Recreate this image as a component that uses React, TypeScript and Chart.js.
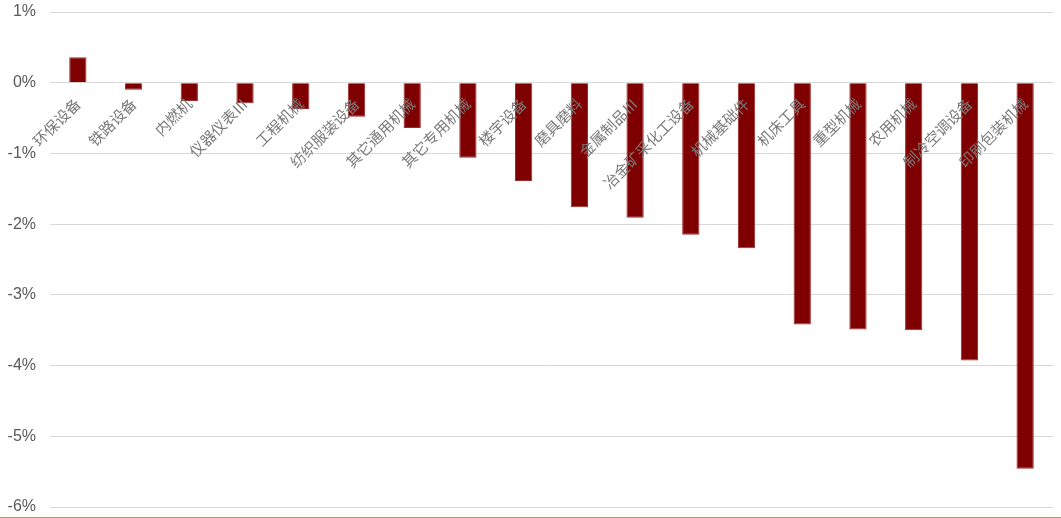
import React, { useEffect, useRef } from "react";
import { Chart, registerables } from "chart.js";

Chart.register(...registerables);

const categories = [
  "环保设备",
  "铁路设备",
  "内燃机",
  "仪器仪表Ⅲ",
  "工程机械",
  "纺织服装设备",
  "其它通用机械",
  "其它专用机械",
  "楼宇设备",
  "磨具磨料",
  "金属制品Ⅲ",
  "冶金矿采化工设备",
  "机械基础件",
  "机床工具",
  "重型机械",
  "农用机械",
  "制冷空调设备",
  "印刷包装机械",
];

// weekly change, %
const changes = [
  0.36, -0.1, -0.26, -0.29, -0.37, -0.48, -0.64, -1.06, -1.39, -1.76, -1.91,
  -2.15, -2.34, -3.42, -3.49, -3.5, -3.93, -5.46,
];

const yTicks = [1, 0, -1, -2, -3, -4, -5, -6];

export default function App() {
  const ref = useRef<HTMLCanvasElement | null>(null);

  useEffect(() => {
    document.body.style.margin = "0";
    const canvas = ref.current;
    if (!canvas) return;
    const chart = new Chart(canvas, {
      type: "bar",
      data: {
        labels: categories,
        datasets: [
          {
            data: changes,
            backgroundColor: "#7F0000",
            borderColor: "#9E2A2A",
            borderWidth: 1,
            barPercentage: 0.62,
            categoryPercentage: 0.5,
          },
        ],
      },
      options: {
        animation: false,
        responsive: false,
        maintainAspectRatio: false,
        layout: { padding: { top: 12, bottom: 10, left: 0, right: 8 } },
        plugins: {
          legend: { display: false },
          tooltip: { enabled: false },
        },
        scales: {
          x: {
            position: { y: 0 },
            grid: { display: false, drawTicks: false },
            border: { display: false },
            ticks: {
              z: 1,
              autoSkip: false,
              minRotation: 45,
              maxRotation: 45,
              padding: 12,
              color: "#7A7A7A",
              font: { family: "'Noto Sans CJK SC', sans-serif", size: 15 },
            },
          },
          y: {
            min: Math.min(...yTicks),
            max: Math.max(...yTicks),
            afterFit: (scale: any) => {
              scale.width = 50;
              // tick labels may overhang the plot area vertically
              scale.paddingTop = 0;
              scale.paddingBottom = 0;
            },
            afterBuildTicks: (scale: any) => {
              scale.ticks = yTicks.map((v) => ({ value: v }));
            },
            grid: { color: "#D9D9D9", lineWidth: 1, drawTicks: false },
            border: { display: false },
            ticks: {
              padding: 14,
              color: "#595959",
              font: { family: "'Liberation Sans', Arial, sans-serif", size: 16 },
              callback: (v: any) => `${v}%`,
            },
          },
        },
      },
    });
    return () => chart.destroy();
  }, []);

  return (
    <div style={{ position: "relative", width: 1061, height: 518, background: "#fff" }}>
      <canvas ref={ref} width={1061} height={517} style={{ display: "block" }} />
      <div style={{ height: 1, background: "#C9964F" }} />
    </div>
  );
}
